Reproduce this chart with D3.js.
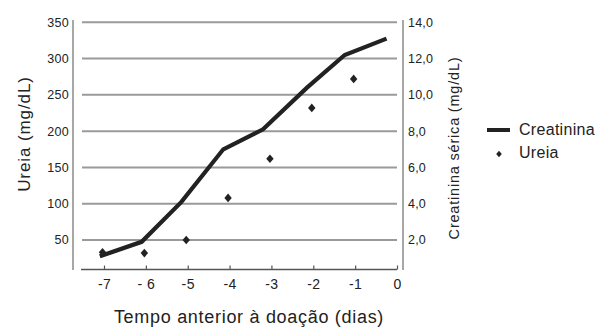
<!DOCTYPE html>
<html>
<head>
<meta charset="utf-8">
<script src="https://cdn.jsdelivr.net/npm/d3@7"></script>
<style>
  body { margin: 0; background: #fff; }
  svg text { font-family: "Liberation Sans", Arial, sans-serif; fill: #222; }
</style>
</head>
<body>
<svg id="vis" width="597" height="328"></svg>
<script>
// dias antes da doação (pontos de ureia)
var dias = [-7, -6, -5, -4, -3, -2, -1];
var ureia = [33, 32, 50, 108, 162, 232, 272];

// creatinina: posições (ligeiramente deslocadas dos ticks)
var creatDias = [-7.1, -6.1, -5.15, -4.15, -3.2, -2.15, -1.25, -0.25];
var creatinina = [1.1, 1.9, 4.1, 7.0, 8.1, 10.4, 12.2, 13.1];

var xTicks = [-7, -6, -5, -4, -3, -2, -1, 0];
var xTickLabels = ['-7', '- 6', '-5', '-4', '-3', '-2', '-1', '0'];
var ureiaTicks = [50, 100, 150, 200, 250, 300, 350];
var creatTicks = [2, 4, 6, 8, 10, 12, 14];

var prefs = {
  gridColor: '#9a9a9a',
  axisColor: '#8a8a8a',
  lineColor: '#222',
  plotLeft: 73,
  gridLeft: 82,
  gridRight: 397,
  plotRight: 403,
  plotTop: 20,
  plotBottom: 270
};

var svg = d3.select('#vis');

var x = d3.scaleLinear().domain([-7, 0]).range([104, 397]);
var yL = d3.scaleLinear().domain([0, 350]).range([276.3, 22.3]);
var yR = d3.scaleLinear().domain([0, 14]).range([276.3, 22.3]);

/* grid lines */
svg.append('g').selectAll('line')
  .data(ureiaTicks)
  .enter().append('line')
    .attr('x1', prefs.gridLeft)
    .attr('x2', prefs.gridRight)
    .attr('y1', function(d) { return yL(d); })
    .attr('y2', function(d) { return yL(d); })
    .attr('stroke', prefs.gridColor)
    .attr('stroke-width', 2);

/* left axis */
var leftAxis = svg.append('g').attr('transform', 'translate(' + prefs.plotLeft + ',0)');
leftAxis.append('line')
  .attr('y1', prefs.plotTop).attr('y2', prefs.plotBottom)
  .attr('stroke', prefs.axisColor).attr('stroke-width', 1.5);
leftAxis.selectAll('text')
  .data(ureiaTicks)
  .enter().append('text')
    .attr('x', -4)
    .attr('y', function(d) { return yL(d); })
    .attr('dy', '0.35em')
    .attr('text-anchor', 'end')
    .style('font-size', '12.5px')
    .style('letter-spacing', '0.3px')
    .text(function(d) { return d; });

/* right axis */
var rightAxis = svg.append('g').attr('transform', 'translate(' + prefs.plotRight + ',0)');
rightAxis.append('line')
  .attr('y1', prefs.plotTop).attr('y2', prefs.plotBottom)
  .attr('stroke', prefs.axisColor).attr('stroke-width', 1.5);
rightAxis.selectAll('text')
  .data(creatTicks)
  .enter().append('text')
    .attr('x', 5)
    .attr('y', function(d) { return yR(d); })
    .attr('dy', '0.35em')
    .style('font-size', '12.5px')
    .style('letter-spacing', '0.2px')
    .text(function(d) { return d3.format('.1f')(d).replace('.', ','); });

/* x axis */
var xAxisFn = d3.axisBottom(x)
  .tickValues(xTicks)
  .tickSize(-4)
  .tickPadding(10)
  .tickFormat(function(d, i) { return xTickLabels[i]; });

var xAxis = svg.append('g')
  .attr('transform', 'translate(0,' + 269.5 + ')')
  .call(xAxisFn);
xAxis.select('.domain').remove();
xAxis.insert('line', ':first-child')
  .attr('x1', 81).attr('x2', 397)
  .attr('stroke', '#555').attr('stroke-width', 1.5);
xAxis.selectAll('.tick line').attr('stroke', '#555').attr('stroke-width', 1.2);
xAxis.selectAll('.tick text')
  .style('font-family', '"Liberation Sans", Arial, sans-serif')
  .style('font-size', '14px')
  .style('letter-spacing', '0.4px')
  .attr('fill', '#222');

/* creatinina line */
var line = d3.line()
  .x(function(d, i) { return x(creatDias[i]); })
  .y(function(d) { return yR(d); });

svg.append('path')
  .datum(creatinina)
  .attr('d', line)
  .attr('fill', 'none')
  .attr('stroke', prefs.lineColor)
  .attr('stroke-width', 4.2)
  .attr('stroke-linejoin', 'miter');

/* ureia diamonds */
var diamond = d3.symbol().type(d3.symbolSquare).size(38);
svg.append('g').selectAll('path')
  .data(ureia)
  .enter().append('path')
    .attr('d', diamond)
    .attr('transform', function(d, i) {
      return 'translate(' + (x(dias[i]) - 1.5) + ',' + yL(d) + ') scale(0.85,1) rotate(45)';
    })
    .attr('fill', prefs.lineColor);

/* axis titles */
svg.append('text')
  .attr('transform', 'translate(30,134) rotate(-90)')
  .attr('text-anchor', 'middle')
  .style('font-size', '17px')
  .style('letter-spacing', '0.9px')
  .text('Ureia (mg/dL)');

svg.append('text')
  .attr('transform', 'translate(459,148) rotate(-90)')
  .attr('text-anchor', 'middle')
  .style('font-size', '14.5px')
  .style('letter-spacing', '0.8px')
  .text('Creatinina sérica (mg/dL)');

svg.append('text')
  .attr('x', 249)
  .attr('y', 323)
  .attr('text-anchor', 'middle')
  .style('font-size', '18px')
  .style('letter-spacing', '0.7px')
  .text('Tempo anterior à doação (dias)');

/* legend */
var legend = svg.append('g');
legend.append('line')
  .attr('x1', 487).attr('x2', 510)
  .attr('y1', 130).attr('y2', 130)
  .attr('stroke', prefs.lineColor).attr('stroke-width', 4);
legend.append('text')
  .attr('x', 519).attr('y', 129).attr('dy', '0.35em')
  .style('font-size', '16px')
  .style('letter-spacing', '0.3px')
  .text('Creatinina');
legend.append('path')
  .attr('d', d3.symbol().type(d3.symbolSquare).size(22))
  .attr('transform', 'translate(499,154) scale(0.85,1) rotate(45)')
  .attr('fill', prefs.lineColor);
legend.append('text')
  .attr('x', 519).attr('y', 152).attr('dy', '0.35em')
  .style('font-size', '16px')
  .style('letter-spacing', '0.3px')
  .text('Ureia');
</script>
</body>
</html>
